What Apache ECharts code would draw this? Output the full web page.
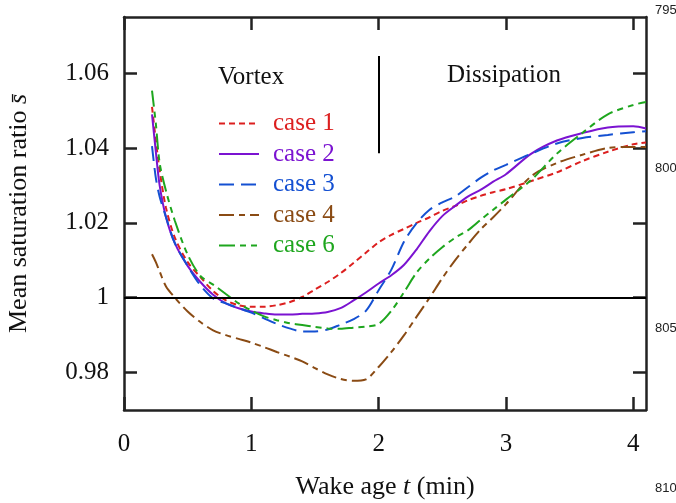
<!DOCTYPE html>
<html>
<head>
<meta charset="utf-8">
<title>Mean saturation ratio vs wake age</title>
<script src="https://cdn.jsdelivr.net/npm/echarts@6/dist/echarts.min.js"></script>
<style>
  html, body { margin: 0; padding: 0; background: #fff; }
  #chart { width: 676px; height: 503px; }
</style>
</head>
<body>
<div id="chart"></div>
<script>
// wake age t (min), shared by all cases
var wakeAge = [0.22, 0.25, 0.28, 0.33, 0.4, 0.5, 0.6, 0.7, 0.8, 0.9,
  1.0, 1.1, 1.2, 1.3, 1.4, 1.5, 1.6, 1.7, 1.8, 1.9,
  2.0, 2.1, 2.2, 2.3, 2.4, 2.5, 2.6, 2.7, 2.8, 2.9,
  3.0, 3.2, 3.4, 3.6, 3.8, 4.0, 4.1];

// mean saturation ratio
var case1 = [1.051, 1.042, 1.034, 1.024, 1.016, 1.0095, 1.0055, 1.0018, 0.9993, 0.998,
  0.9976, 0.9976, 0.998, 0.9988, 1.0002, 1.0022, 1.0042, 1.0065, 1.0092, 1.012,
  1.0148, 1.0168, 1.0184, 1.02, 1.0215, 1.0232, 1.0245, 1.026, 1.0272, 1.0282,
  1.029, 1.0312, 1.0335, 1.0365, 1.039, 1.041, 1.0415];
var case2 = [1.049, 1.039, 1.03, 1.0215, 1.0145, 1.0085, 1.0042, 1.0008, 0.9985, 0.9972,
  0.9963, 0.9958, 0.9955, 0.9955, 0.9957, 0.9958, 0.9962, 0.9972, 0.9992, 1.0014,
  1.0038, 1.006, 1.0088, 1.013, 1.0178, 1.0218, 1.0245, 1.027, 1.0288, 1.031,
  1.033, 1.0385, 1.042, 1.044, 1.0455, 1.0458, 1.0452];
var case3 = [1.0405, 1.032, 1.027, 1.0215, 1.0145, 1.0085, 1.0033, 0.9998, 0.9985, 0.9972,
  0.996, 0.9945, 0.993, 0.9918, 0.991, 0.991, 0.9915, 0.9928, 0.9942, 0.9965,
  1.002, 1.0075, 1.015, 1.02, 1.0235, 1.0255, 1.027, 1.0295, 1.032, 1.034,
  1.0355, 1.0385, 1.0412, 1.0427, 1.0435, 1.0442, 1.0445];
var case4 = [1.0116, 1.0095, 1.007, 1.003, 1.0, 0.9963, 0.9935, 0.9913, 0.99, 0.989,
  0.988, 0.9868, 0.9855, 0.9843, 0.983, 0.9812, 0.9795, 0.9783, 0.9778, 0.9782,
  0.9815, 0.9855, 0.99, 0.995, 1.0, 1.0052, 1.01, 1.0142, 1.0182, 1.0215,
  1.025, 1.0325, 1.036, 1.0382, 1.04, 1.0403, 1.0403];
var case6 = [1.0553, 1.0465, 1.036, 1.0285, 1.0205, 1.0115, 1.0058, 1.0035, 1.001, 0.9985,
  0.9966, 0.995, 0.994, 0.9932, 0.9927, 0.9922, 0.9918, 0.9917, 0.992, 0.9923,
  0.993, 0.9965, 1.0015, 1.0068, 1.0105, 1.0135, 1.016, 1.018, 1.0208, 1.0235,
  1.0262, 1.0315, 1.0385, 1.044, 1.049, 1.0515, 1.0523];

var caseNames = ['case 1', 'case 2', 'case 3', 'case 4', 'case 6'];
var caseValues = [case1, case2, case3, case4, case6];
var caseColors = ['#dc1f1f', '#7b13d1', '#1450d2', '#8a4b14', '#1ea61e'];
var caseDashes = [[6, 4], 'solid', [15, 7], [15, 5, 6, 5], [16, 5, 6, 5, 6, 5]];

var xTicks = [0, 1, 2, 3, 4];
var yTicks = [0.98, 1, 1.02, 1.04, 1.06];
var lineNumbers = ['795', '800', '805', '810'];

var serif = '"Liberation Serif", "Times New Roman", serif';
var ink = '#222';

let myChart = echarts.init(document.getElementById('chart'));

function pairs(vals) {
  var d = [];
  for (var i = 0; i < wakeAge.length; i++) d.push([wakeAge[i], vals[i]]);
  return d;
}

var series = caseNames.map(function (name, i) {
  var s = {
    name: name,
    type: 'line',
    smooth: 0.3,
    symbol: 'none',
    data: pairs(caseValues[i]),
    lineStyle: { color: caseColors[i], width: 2, type: caseDashes[i] },
    itemStyle: { color: caseColors[i] },
    z: 3
  };
  if (i === 0) {
    // y = 1 reference line and the Vortex / Dissipation divider at t = 2
    s.markLine = {
      silent: true,
      symbol: 'none',
      label: { show: false },
      lineStyle: { color: '#000', width: 2, type: 'solid' },
      data: [
        { yAxis: 1 },
        [{ coord: [2, 1.0646] }, { coord: [2, 1.0386] }]
      ]
    };
  }
  return s;
});

var graphics = [
  { type: 'text', left: 218, top: 65, style: { text: 'Vortex', font: '25px ' + serif, fill: '#111' } },
  { type: 'text', left: 447, top: 63, style: { text: 'Dissipation', font: '25px ' + serif, fill: '#111' } }
];
var lineNumberY = [4, 162, 322, 482];
lineNumbers.forEach(function (t, i) {
  graphics.push({ type: 'text', left: 655, top: lineNumberY[i],
    style: { text: t, font: '13px "Liberation Sans", Arial, sans-serif', fill: '#222' } });
});

function boxAxis(extra) {
  return Object.assign({
    type: 'value',
    axisLine: { show: true, onZero: false, lineStyle: { color: ink, width: 2.5 } },
    axisTick: { show: true, inside: true, length: 13, lineStyle: { color: ink, width: 2.5 } },
    splitLine: { show: false }
  }, extra);
}

var titleRich = {
  r: { fontFamily: serif, fontSize: 26, color: '#111' },
  i: { fontFamily: serif, fontSize: 26, fontStyle: 'italic', color: '#111' }
};

myChart.setOption({
  animation: false,
  backgroundColor: '#fff',
  grid: { left: 124, right: 30, top: 17, bottom: 93, outerBoundsMode: 'none' },
  legend: {
    orient: 'vertical',
    left: 218,
    top: 111,
    padding: 0,
    itemWidth: 40,
    itemHeight: 14,
    itemGap: 5.5,
    selectedMode: false,
    itemStyle: { opacity: 0 },
    data: caseNames.map(function (n, i) {
      return { name: n, textStyle: { color: caseColors[i] } };
    }),
    textStyle: { fontFamily: serif, fontSize: 25, lineHeight: 24, padding: [0, 0, 0, 9] }
  },
  xAxis: [
    boxAxis({
      min: 0, max: 4.1, position: 'bottom',
      name: '{r|Wake age }{i|t}{r| (min)}',
      nameLocation: 'middle', nameGap: 64,
      nameTextStyle: { rich: titleRich },
      axisTick: { show: true, inside: true, length: 13, customValues: xTicks, lineStyle: { color: ink, width: 2.5 } },
      axisLabel: { customValues: xTicks, margin: 22, fontFamily: serif, fontSize: 25, color: '#111' }
    }),
    boxAxis({
      min: 0, max: 4.1, position: 'top',
      axisTick: { show: true, inside: true, length: 13, customValues: xTicks, lineStyle: { color: ink, width: 2.5 } },
      axisLabel: { show: false }
    })
  ],
  yAxis: [
    boxAxis({
      min: 0.97, max: 1.075, position: 'left',
      name: '{r|Mean saturation ratio }{i|s̄}',
      nameLocation: 'middle', nameGap: 92, nameRotate: 90,
      nameTextStyle: { rich: titleRich },
      axisTick: { show: true, inside: true, length: 13, customValues: yTicks, lineStyle: { color: ink, width: 2.5 } },
      axisLabel: { customValues: yTicks, margin: 15, fontFamily: serif, fontSize: 25, color: '#111',
        formatter: function (v) { return v === 1 ? '1' : v.toFixed(2); } }
    }),
    boxAxis({
      min: 0.97, max: 1.075, position: 'right',
      axisTick: { show: true, inside: true, length: 13, customValues: yTicks, lineStyle: { color: ink, width: 2.5 } },
      axisLabel: { show: false }
    })
  ],
  graphic: graphics,
  series: series
});
</script>
</body>
</html>
